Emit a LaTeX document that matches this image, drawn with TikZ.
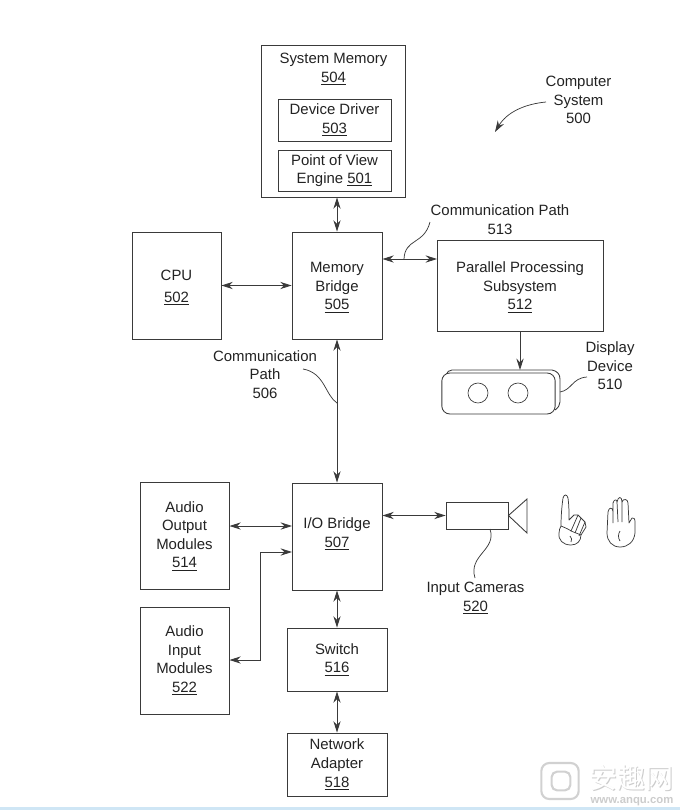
\documentclass[tikz,border=0pt]{standalone}
\usepackage{fontspec}
\setmainfont{Liberation Sans}
\newfontfamily\cjk{Noto Sans CJK SC}
\usetikzlibrary{arrows.meta,calc}
\definecolor{inkline}{HTML}{3A3A3A}
\definecolor{inktext}{HTML}{222222}
\definecolor{stripblue}{HTML}{CFE6F5}
\tikzset{
  >={Stealth[length=3mm,width=1.9mm]},
  % blokkar
  blk/.style={draw=inkline,line width=0.65pt,inner sep=0pt,align=center,text=inktext,
              font=\fontsize{11.2}{13.9}\selectfont},
  lbl/.style={inner sep=0pt,align=center,text=inktext,font=\fontsize{11.2}{13.9}\selectfont},
  link/.style={<->,draw=inkline,line width=0.65pt},
  lead/.style={draw=inkline,line width=0.55pt},
  hand/.style={draw=inkline,line width=0.55pt,line join=round},
  wm/.style={inner sep=0pt,text=white},
  wmsh/.style={inner sep=0pt,text=black!20},
}
\newcommand{\num}[1]{\underline{#1}}
\newcommand{\tstrut}{\rule{0pt}{11pt}}
\newcommand{\bstrut}{\rule[-6pt]{0pt}{6pt}}
\begin{document}
\begin{tikzpicture}[x=0.75pt,y=-0.75pt]
  \useasboundingbox (0,0) rectangle (680,810);
  % system memory stack
  \node[blk,minimum width=108pt,minimum height=114pt] (sysmem) at (333,121) {};
  \node[lbl] (sysmemtxt) at (333.5,69) {System Memory\\\num{504}};
  \node[blk,minimum width=84.75pt,minimum height=31.5pt] (driver) at (334.5,120) {Device Driver\\\num{503}};
  \node[blk,minimum width=84.75pt,minimum height=30.75pt] (pov) at (334.5,170.5) {Point of View\\Engine \num{501}};
  % main blocks
  \node[blk,minimum width=67.5pt,minimum height=80.25pt] (membr) at (337,285.5) {\tstrut Memory\\Bridge\\\num{505}};
  \node[blk,minimum width=66.75pt,minimum height=80.25pt] (cpu) at (176.5,285.5) {\tstrut CPU\\[3pt]\num{502}};
  \node[blk,minimum width=124.5pt,minimum height=68.25pt] (pps) at (520,285.5) {\tstrut Parallel Processing\\Subsystem\\\num{512}};
  \node[blk,minimum width=67.5pt,minimum height=80.25pt] (iobr) at (337,536.5) {I/O Bridge\\\num{507}\bstrut};
  \node[blk,minimum width=66.75pt,minimum height=80.25pt] (aout) at (184.5,536) {Audio\\Output\\Modules\\\num{514}};
  \node[blk,minimum width=66.75pt,minimum height=80.25pt] (ain) at (184.5,660.5) {Audio\\Input\\Modules\\\num{522}};
  \node[blk,minimum width=75pt,minimum height=47.25pt] (switch) at (337,659.5) {Switch\\\num{516}};
  \node[blk,minimum width=75pt,minimum height=47.25pt] (netad) at (337,764.5) {Network\\Adapter\\\num{518}};
  % display device
  \draw[blk] (446,375) .. controls (447,372) and (449,370) .. (452,370) -- (552,370)
    .. controls (557,371) and (560,374) .. (560,379) -- (560,402) .. controls (560,405) and (558,408) .. (555,410);
  \node[blk,fill=white,rounded corners=6pt,minimum width=85pt,minimum height=30.75pt] (display) at (498.5,393.5) {};
  \node[draw=inkline,line width=0.5pt,circle,minimum size=15pt,inner sep=0pt] (lenslt) at (478,393) {};
  \node[draw=inkline,line width=0.5pt,circle,minimum size=15pt,inner sep=0pt] (lensrt) at (518,393) {};
  % camera
  \node[blk,minimum width=46.5pt,minimum height=20.25pt] (camera) at (477,515.5) {};
  \draw[blk] (camera.east) -- (527,499) -- (527,533) -- cycle;
  % links
  \coordinate (p513) at (437,259);
  \coordinate (paout) at (292,526);
  \coordinate (pain) at (260,660);
  \coordinate (piobr) at (292,552);
  \draw[link] (membr.north) -- (membr.north |- sysmem.south);
  \draw[link] (cpu.east) -- (membr.west);
  \draw[link] (p513 -| membr.east) -- (p513);
  \draw[->,draw=inkline,line width=0.65pt] (pps.south) -- (pps.south |- 0,370);
  \draw[link] (membr.south) -- (iobr.north);
  \draw[link] (paout) -- (paout -| aout.east);
  \draw[link] (ain.east |- pain) -- (pain) -- (pain |- piobr) -- (piobr);
  \draw[link] (iobr.south) -- (switch.north);
  \draw[link] (switch.south) -- (netad.north);
  \draw[link] (iobr.east |- camera.west) -- (camera.west);
  % callouts
  \node[lbl] (syslbl) at (578.5,100) {Computer\\System\\500};
  \node[lbl] (path513) at (500,219.5) {Communication Path\\513};
  \node[lbl] (path506) at (265,374.5) {Communication\\Path\\506};
  \node[lbl] (displbl) at (610,366) {Display\\Device\\510};
  \node[lbl] (camlbl) at (475.5,598) {Input Cameras\\\num{520}};
  \coordinate (sysend) at (495,132);
  \draw[->,lead] (546,102) .. controls (525,104) and (507,112) .. (sysend);
  \draw[lead] (430,222) .. controls (424,245) and (405,238) .. (404,259);
  \draw[lead] (303,369) .. controls (325,373) and (325,395) .. (337,403);
  \draw[lead] (560,392) .. controls (572,390) and (572,378) .. (587,377);
  \draw[lead] (490,529) .. controls (497,550) and (468,555) .. (475,578);
  % hands
  \draw[hand] (561,526) .. controls (561,515) and (562,505) .. (563,498)
    .. controls (564,494) and (567,494) .. (568,498)
    .. controls (569,505) and (569,512) .. (569,520)
    -- (574,515) -- (578,515) -- (581,518) -- (585,522) -- (586,527) -- (581,535)
    .. controls (581,541) and (577,545) .. (571,545)
    .. controls (563,545) and (558,540) .. (559,533)
    .. controls (559,530) and (560,528) .. (561,526) -- cycle;
  \draw[hand] (578,515) -- (571,531) (581,518) -- (575,533) (585,522) -- (579,536)
    (561,526) .. controls (566,528) and (570,530) .. (571,531) -- (581,535)
    (570,536) .. controls (572,538) and (572,540) .. (571,542);
  \draw[hand] (607,533) -- (608,512) .. controls (609,507) and (612,507) .. (613,511) -- (613,503)
    .. controls (614,499) and (617,499) .. (617,502)
    .. controls (618,496) and (622,496) .. (622,502)
    .. controls (623,498) and (628,499) .. (628,503)
    -- (629,523) -- (632,518) .. controls (634,517) and (635,519) .. (635,522)
    -- (635,533) .. controls (634,542) and (628,547) .. (620,547)
    .. controls (612,547) and (607,541) .. (607,533) -- cycle;
  \draw[hand] (613,511) -- (613,523) (617,502) -- (618,522) (622,502) -- (622,522)
    (620,531) .. controls (618,534) and (618,538) .. (620,541);
  % site mark in the corner
  \node[draw=black!18,line width=1.6pt,rounded corners=6pt,minimum width=28pt,minimum height=27pt] (mkout) at (560,781) {};
  \node[draw=black!18,line width=1.6pt,rounded corners=4pt,minimum width=14pt,minimum height=14pt] (mkin) at (561,781) {};
  \node[wmsh,font=\cjk\fontsize{21}{21}\selectfont] (mkcjks) at (632.5,779) {安趣网};
  \node[wm,font=\cjk\fontsize{21}{21}\selectfont] (mkcjk) at (631.5,778) {安趣网};
  \node[wmsh,font=\bfseries\fontsize{8.5}{9}\selectfont] (mkurl) at (632,802) {www.anqu.com};
  \fill[stripblue] (0,807) rectangle (680,810);
\end{tikzpicture}
\end{document}
